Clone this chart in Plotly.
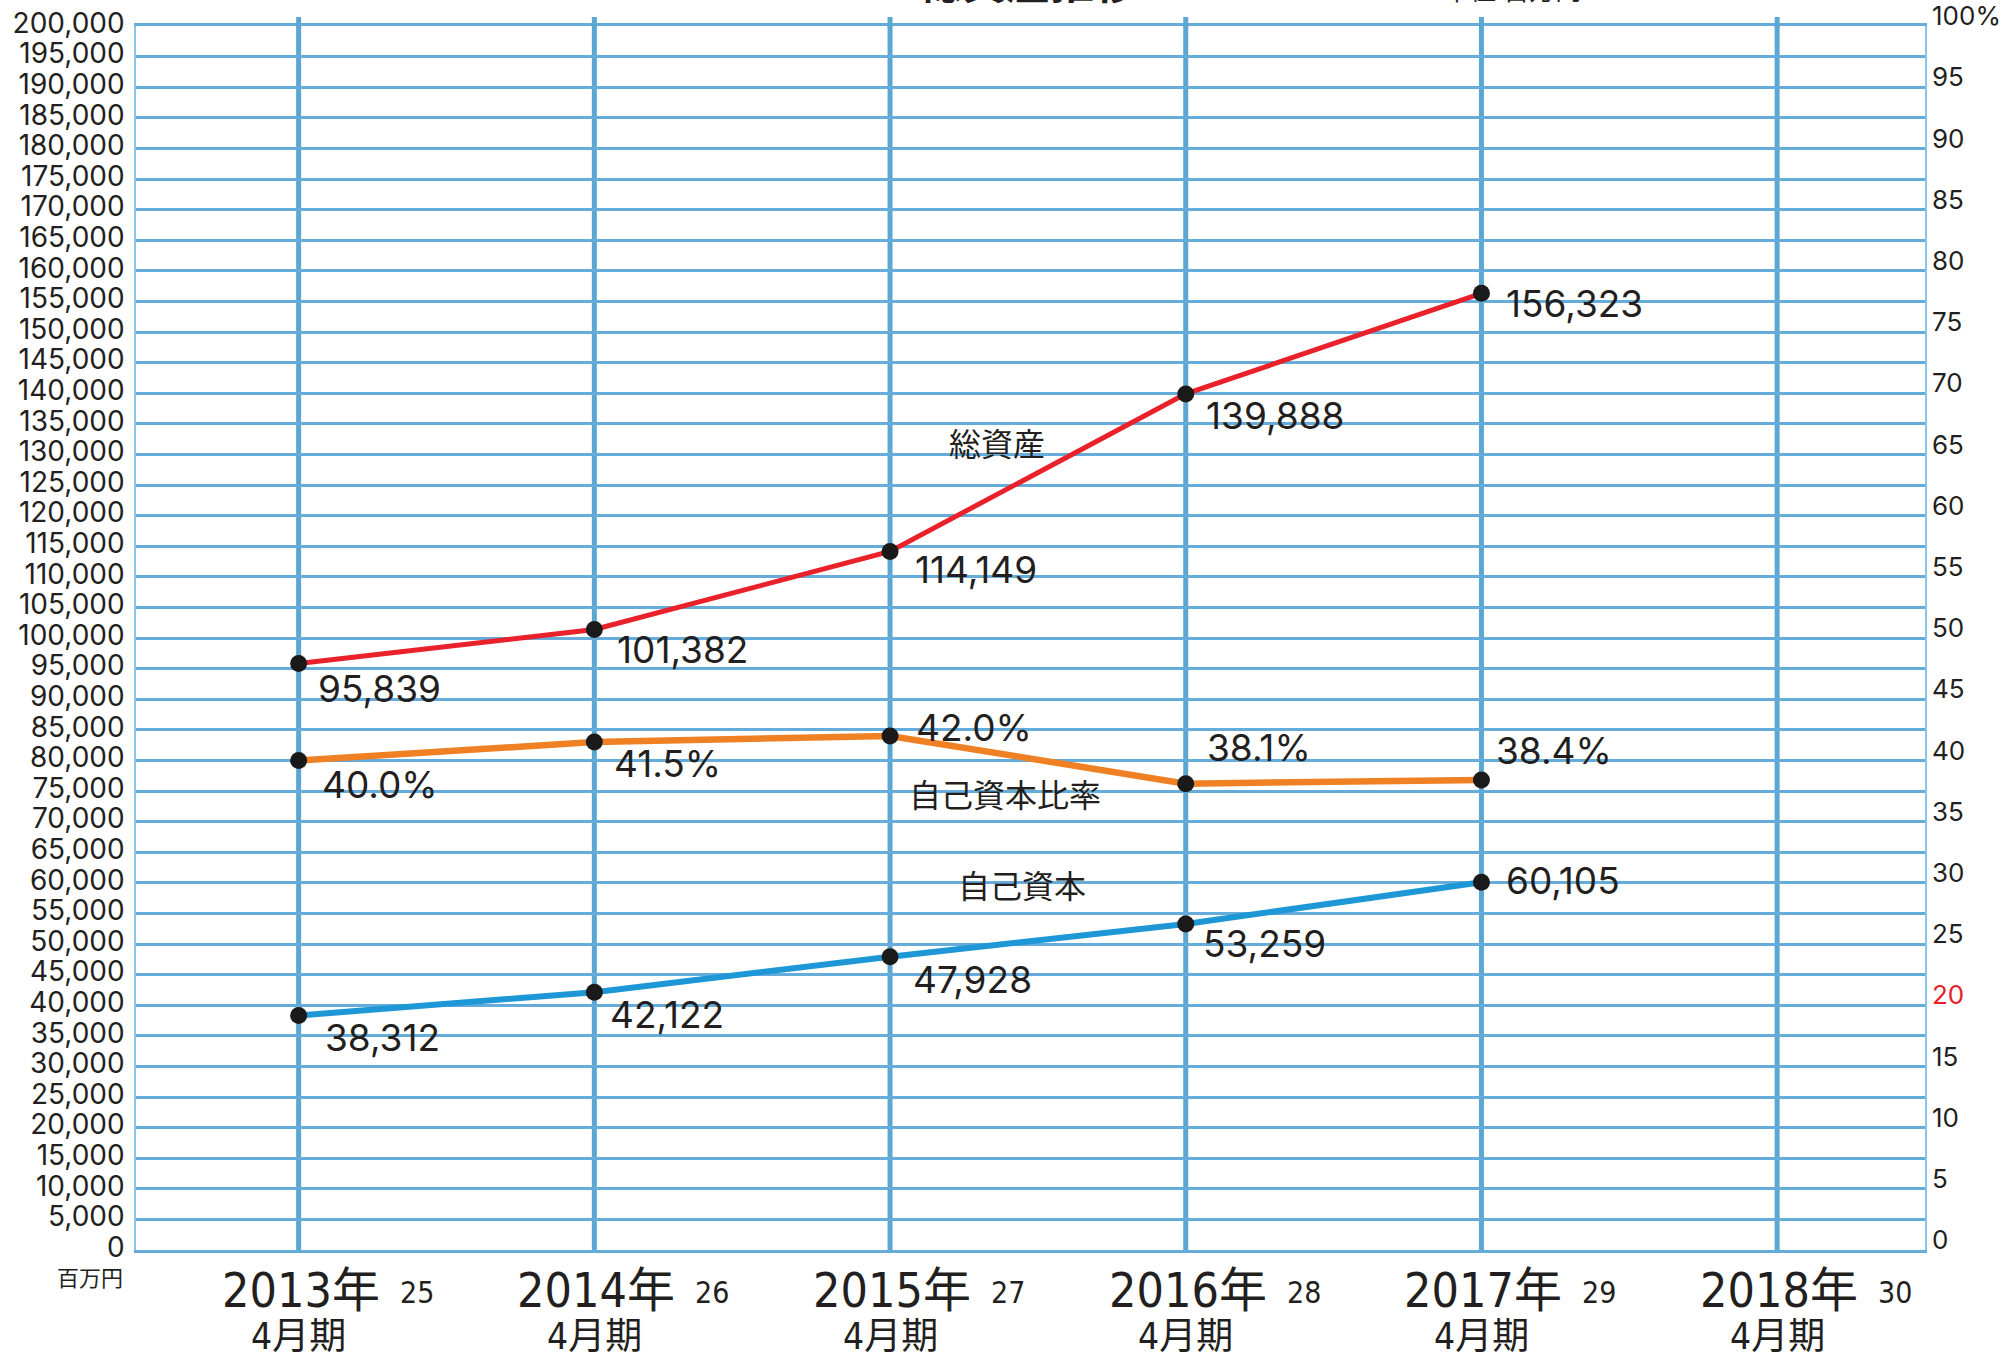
import plotly.graph_objects as go

# ---- data ----
categories = ["2013", "2014", "2015", "2016", "2017", "2018"]
year_labels = ["2013年", "2014年", "2015年", "2016年", "2017年", "2018年"]
heisei_labels = ["25", "26", "27", "28", "29", "30"]
period_label = "4月期"
data_cats = ["2013", "2014", "2015", "2016", "2017"]
total_assets = [95839, 101382, 114149, 139888, 156323]
equity = [38312, 42122, 47928, 53259, 60105]
equity_ratio = [40.0, 41.5, 42.0, 38.1, 38.4]
left_ticks = list(range(0, 200001, 5000))
right_ticks = list(range(0, 101, 5))

# ---- label offsets (pixels: dx right, dy down) ----
red_off = [(17, 25), (21, 20), (23, 18), (18, 22), (23, 10)]
ora_off = [(21, 24), (18, 21), (24, -8), (19, -36), (13, -29)]
blu_off = [(24, 22), (14, 22), (21, 23), (15, 19), (23, -2)]

RED = "#e8212b"
ORANGE = "#f08024"
BLUE = "#1e97d6"
GRID = "#66acda"
VLINE = "#5ba7d2"
TXT = "#231f20"
NUMFONT = "Inter, 'Noto Sans CJK JP', sans-serif"
JPFONT = "'Noto Sans CJK JP', sans-serif"
NARROW = "'Liberation Sans Narrow', 'DejaVu Sans Condensed', 'Noto Sans CJK JP', sans-serif"

idx = {c: i for i, c in enumerate(categories)}

fig = go.Figure()
fig.add_trace(go.Scatter(x=data_cats, y=total_assets, mode="lines+markers",
                         line=dict(color=RED, width=5),
                         marker=dict(color="#1a1a1a", size=17), showlegend=False))
fig.add_trace(go.Scatter(x=data_cats, y=equity_ratio, yaxis="y2", mode="lines+markers",
                         line=dict(color=ORANGE, width=6.5),
                         marker=dict(color="#1a1a1a", size=17), showlegend=False))
fig.add_trace(go.Scatter(x=data_cats, y=equity, mode="lines+markers",
                         line=dict(color=BLUE, width=6),
                         marker=dict(color="#1a1a1a", size=17), showlegend=False))

ann = []
def lab(c, y, text, off, yref="y"):
    ann.append(dict(x=idx[c], y=y, xref="x", yref=yref, text=text, showarrow=False,
                    xanchor="left", yanchor="middle", xshift=off[0], yshift=-off[1],
                    font=dict(family=NUMFONT, size=37, color=TXT)))

for c, v, o in zip(data_cats, total_assets, red_off):
    lab(c, v, f"{v:,}", o)
for c, v, o in zip(data_cats, equity_ratio, ora_off):
    lab(c, v, f"{v:.1f}%", o, yref="y2")
for c, v, o in zip(data_cats, equity, blu_off):
    lab(c, v, f"{v:,}", o)

# series names
for txt, px, py in [("総資産", 0.4813, 0.660), ("自己資本比率", 0.4857, 0.3734), ("自己資本", 0.4953, 0.2786)]:
    ann.append(dict(x=px, y=py, xref="paper", yref="paper", text=txt, showarrow=False,
                    font=dict(family=JPFONT, size=32, color=TXT)))

# x category labels (pixel rows converted to paper: plot bottom at 1250, height 1224)
def py_(pix):
    return (1250 - pix) / 1224

for c, yl, hl in zip(categories, year_labels, heisei_labels):
    ann.append(dict(x=idx[c], y=py_(1290), xref="x", yref="paper", text=yl, showarrow=False,
                    xanchor="center", yanchor="middle", xshift=2,
                    font=dict(family=NARROW, size=48, color=TXT)))
    ann.append(dict(x=idx[c], y=py_(1292), xref="x", yref="paper", text=hl, showarrow=False,
                    xanchor="center", yanchor="middle", xshift=118,
                    font=dict(family=NARROW, size=30, color=TXT)))
    ann.append(dict(x=idx[c], y=py_(1336), xref="x", yref="paper", text=period_label, showarrow=False,
                    xanchor="center", yanchor="middle",
                    font=dict(family=NARROW, size=37, color=TXT)))

ann.append(dict(x=-0.0257, y=py_(1276), xref="paper", yref="paper", text="百万円", showarrow=False,
                xanchor="center", yanchor="middle", font=dict(family=JPFONT, size=22, color=TXT)))
# clipped title and unit at top
ann.append(dict(x=0.4987, y=1 + (26 - 14) / 1224, xref="paper", yref="paper", text="<b>総資産推移</b>",
                showarrow=False, xanchor="center", yanchor="bottom",
                font=dict(family=JPFONT, size=44, color=TXT)))
ann.append(dict(x=0.7692, y=1 + (26 - 9) / 1224, xref="paper", yref="paper", text="単位:百万円",
                showarrow=False, xanchor="center", yanchor="bottom",
                font=dict(family=JPFONT, size=26, color=TXT)))

shapes = []
for c in categories:
    shapes.append(dict(type="line", xref="x", yref="paper", x0=idx[c], x1=idx[c], y0=0, y1=1,
                       line=dict(color=VLINE, width=5), layer="between"))
    shapes.append(dict(type="line", xref="x", yref="paper", x0=idx[c], x1=idx[c], y0=0.999, y1=1.0074,
                       line=dict(color=VLINE, width=5), layer="above"))

right_text = [("100%" if t == 100 else ('<span style="color:#e8212b">20</span>' if t == 20 else str(t)))
              for t in right_ticks]

fig.update_layout(
    width=2016, height=1357,
    margin=dict(l=136, r=91, t=26, b=107, autoexpand=False),
    paper_bgcolor="white", plot_bgcolor="white",
    annotations=ann, shapes=shapes,
    xaxis=dict(type="category", categoryorder="array", categoryarray=categories,
               range=[-0.55, 5.5], showticklabels=False, showgrid=False, zeroline=False,
               showline=True, linecolor=GRID, linewidth=3, mirror=True, ticks="",
               automargin=False),
    yaxis=dict(range=[0, 200000], tickvals=left_ticks, tickformat=",", showgrid=True,
               gridcolor=GRID, gridwidth=3, zeroline=False, showline=True,
               linecolor="#8cc4e8", linewidth=1.5, mirror=True, ticks="",
               ticklabelstandoff=4, ticklabelshift=-3, ticklabeloverflow="allow",
               automargin=False,
               tickfont=dict(family=NUMFONT, size=28, color=TXT)),
    yaxis2=dict(range=[0, 100], overlaying="y", side="right", tickvals=right_ticks,
                ticktext=right_text, showgrid=False, zeroline=False, showline=False, ticks="",
                ticklabelstandoff=6, ticklabelshift=-10, ticklabeloverflow="allow",
                automargin=False,
                tickfont=dict(family=NUMFONT, size=26, color=TXT)),
)

fig.write_html("out.html", config={"displayModeBar": False},
               post_script="document.body.style.margin='0';document.body.style.overflow='hidden';")
